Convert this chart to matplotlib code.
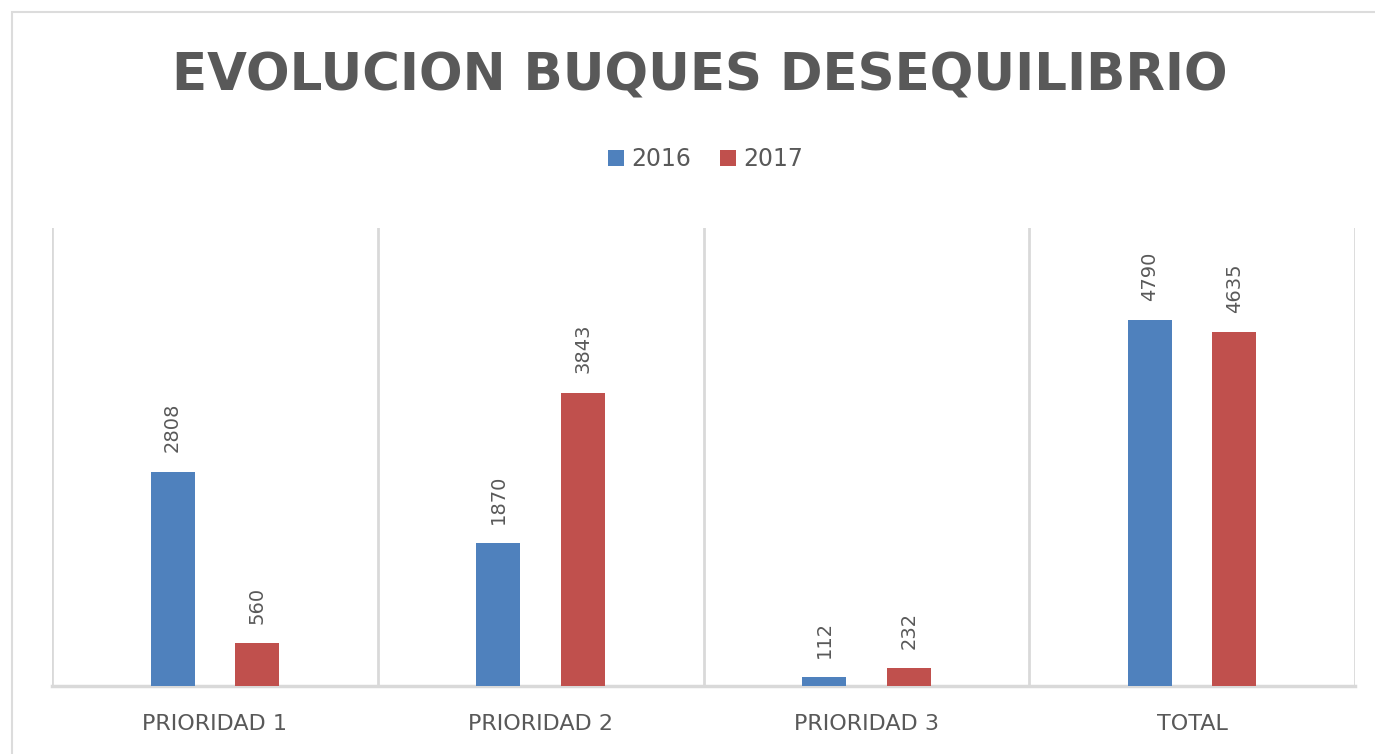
import matplotlib
matplotlib.use("Agg")
import matplotlib.pyplot as plt
from matplotlib.patches import Rectangle
import numpy as np

categories = ["PRIORIDAD 1", "PRIORIDAD 2", "PRIORIDAD 3", "TOTAL"]
series_names = ["2016", "2017"]
values_2016 = [2808, 1870, 112, 4790]
values_2017 = [560, 3843, 232, 4635]
title = "EVOLUCION BUQUES DESEQUILIBRIO"

c2016 = "#4f81bd"
c2017 = "#c0504d"
text_gray = "#595959"
grid_gray = "#d9d9d9"

fig = plt.figure(figsize=(13.75, 7.54), dpi=100)
fig.patch.set_facecolor("white")

# outer chart border (top and left visible)
fig.add_artist(Rectangle((12 / 1375, -0.1), 1.2, (754 - 12) / 754 + 0.1,
                         transform=fig.transFigure, fill=False,
                         edgecolor="#dcdcdc", linewidth=1.5))

ax = fig.add_axes([52 / 1375, (754 - 686) / 754, (1355 - 52) / 1375, (686 - 228) / 754])
x = np.arange(len(categories))
w = 0.135
off = 0.13
b1 = ax.bar(x - off, values_2016, width=w, color=c2016, label=series_names[0], zorder=3)
b2 = ax.bar(x + off, values_2017, width=w, color=c2017, label=series_names[1], zorder=3)

for bars in (b1, b2):
    ax.bar_label(bars, labels=[str(v) for v in bars.datavalues], rotation=90,
                 padding=14, color=text_gray, fontsize=14)

ax.set_xlim(-0.5, len(categories) - 0.5)
ax.set_ylim(0, 6000)
for b in np.arange(-0.5, len(categories), 1.0):
    ax.axvline(b, color=grid_gray, linewidth=2, zorder=1)

for s in ["top", "right", "left"]:
    ax.spines[s].set_visible(False)
ax.spines["bottom"].set_color(grid_gray)
ax.spines["bottom"].set_linewidth(2.5)
ax.set_yticks([])
ax.set_xticks(x)
ax.set_xticklabels(categories, color=text_gray, fontsize=16)
ax.tick_params(axis="x", length=0, pad=20)

fig.text(0.509, 0.899, title, ha="center", va="center", fontsize=37,
         fontweight="bold", color=text_gray)

fig.legend(handles=[b1, b2], labels=series_names, loc="center",
           bbox_to_anchor=(0.513, 0.789), ncol=2, frameon=False,
           fontsize=17, handlelength=0.7, handleheight=0.7,
           handletextpad=0.3, columnspacing=1.2, labelcolor=text_gray)

fig.savefig("out.png", dpi=100)
